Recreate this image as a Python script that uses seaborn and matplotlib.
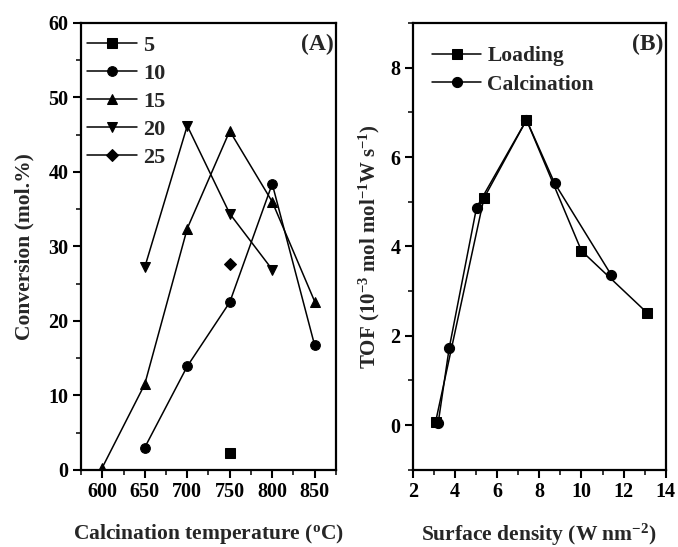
import matplotlib
matplotlib.use('Agg')
import matplotlib.pyplot as plt
from matplotlib.ticker import MultipleLocator
import seaborn as sns
import pandas as pd

sns.set_style('ticks')
plt.rcParams['font.family'] = ['Liberation Serif', 'DejaVu Serif']
plt.rcParams['font.weight'] = 'bold'
plt.rcParams['mathtext.fontset'] = 'custom'
plt.rcParams['mathtext.rm'] = 'Liberation Serif:bold'
plt.rcParams['mathtext.default'] = 'rm'

# panel A: conversion vs calcination temperature, one series per loading
temp_5 = [750]
conv_5 = [2.2]
temp_10 = [650, 700, 750, 800, 850]
conv_10 = [3.0, 13.9, 22.5, 38.4, 16.7]
temp_15 = [600, 650, 700, 750, 800, 850]
conv_15 = [0.3, 11.5, 32.4, 45.5, 36.0, 22.6]
temp_20 = [650, 700, 750, 800]
conv_20 = [27.2, 46.2, 34.4, 26.9]
temp_25 = [750]
conv_25 = [27.7]

# panel B: TOF vs surface density
dens_loading = [3.08, 5.37, 7.39, 10.0, 13.1]
tof_loading = [0.08, 5.08, 6.83, 3.9, 2.52]
dens_calc = [3.2, 3.72, 5.02, 7.39, 8.72, 11.4]
tof_calc = [0.05, 1.72, 4.87, 6.83, 5.42, 3.37]

seriesA = [
    ('5', temp_5, conv_5, 's'),
    ('10', temp_10, conv_10, 'o'),
    ('15', temp_15, conv_15, '^'),
    ('20', temp_20, conv_20, 'v'),
    ('25', temp_25, conv_25, 'D'),
]
seriesB = [
    ('Loading', dens_loading, tof_loading, 's'),
    ('Calcination', dens_calc, tof_calc, 'o'),
]

fig = plt.figure(figsize=(6.78, 5.47), dpi=100)
axA = fig.add_axes([0.1195, 0.141, 0.376, 0.817])
axB = fig.add_axes([0.609, 0.141, 0.373, 0.817])

for name, xs, ys, mk in seriesA:
    df = pd.DataFrame({'x': xs, 'y': ys})
    ms = 6.0 if mk == 'D' else 7.0
    sns.lineplot(data=df, x='x', y='y', ax=axA, color='k', lw=1.1,
                 marker=mk, markersize=ms, markeredgecolor='k',
                 label=name, sort=False, estimator=None)

for name, xs, ys, mk in seriesB:
    df = pd.DataFrame({'x': xs, 'y': ys})
    sns.lineplot(data=df, x='x', y='y', ax=axB, color='k', lw=1.1,
                 marker=mk, markersize=7.3, markeredgecolor='k',
                 label=name, sort=False, estimator=None)

axA.set_xlim(575, 875)
axA.set_ylim(0, 60)
axA.xaxis.set_major_locator(MultipleLocator(50))
axA.xaxis.set_minor_locator(MultipleLocator(25))
axA.yaxis.set_major_locator(MultipleLocator(10))
axA.yaxis.set_minor_locator(MultipleLocator(5))
axA.set_xlabel('Calcination temperature ($^\\mathrm{o}$C)', fontsize=15.5,
               fontweight='bold', labelpad=14)
axA.set_ylabel('Conversion (mol.%)', fontsize=15.5, fontweight='bold', labelpad=10)

axB.set_xlim(2, 14)
axB.set_ylim(-1, 9)
axB.xaxis.set_major_locator(MultipleLocator(2))
axB.xaxis.set_minor_locator(MultipleLocator(1))
axB.yaxis.set_major_locator(MultipleLocator(2))
axB.yaxis.set_minor_locator(MultipleLocator(1))
axB.set_yticks([0, 2, 4, 6, 8])
axB.set_xlabel('Surface density (W nm$^{-2}$)', fontsize=15.5,
               fontweight='bold', labelpad=14)
axB.set_ylabel('TOF (10$^{-3}$ mol mol$^{-1}$W s$^{-1}$)', fontsize=15,
               fontweight='bold', labelpad=6)

for ax, tag in [(axA, '(A)'), (axB, '(B)')]:
    for sp in ax.spines.values():
        sp.set_linewidth(1.6)
        sp.set_color('k')
    ax.tick_params(which='major', direction='out', length=6, width=1.5,
                   labelsize=14.5, colors='k', pad=3)
    ax.tick_params(which='minor', direction='out', length=3.5, width=1.3)
    for lab in ax.get_xticklabels() + ax.get_yticklabels():
        lab.set_fontweight('bold')
    ax.text(0.99, 0.975, tag, transform=ax.transAxes, ha='right', va='top',
            fontsize=17, fontweight='bold')

axA.legend(loc='upper left', bbox_to_anchor=(0.024, 0.972), frameon=False,
           handlelength=2.25, labelspacing=0.33, handletextpad=0.27,
           borderaxespad=0, borderpad=0,
           prop={'weight': 'bold', 'size': 16})
axB.legend(loc='upper left', bbox_to_anchor=(0.075, 0.948), frameon=False,
           handlelength=2.3, labelspacing=0.38, handletextpad=0.27,
           borderaxespad=0, borderpad=0,
           prop={'weight': 'bold', 'size': 15.5})

fig.savefig('out.png', dpi=100)
